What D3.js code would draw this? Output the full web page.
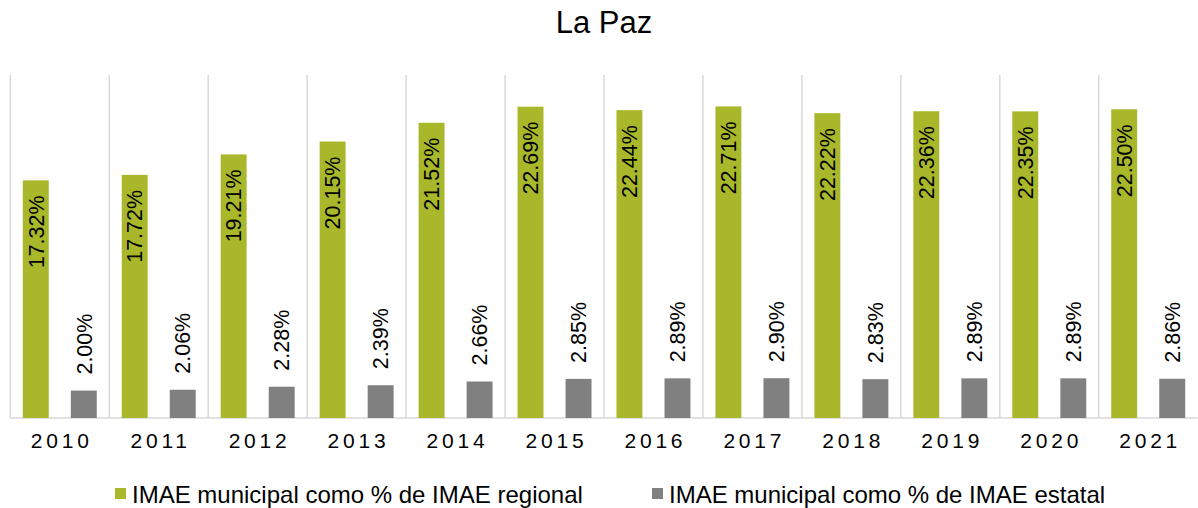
<!DOCTYPE html>
<html lang="es">
<head>
    <meta charset="utf-8">
    <script src="https://d3js.org/d3.v7.min.js"></script>
</head>
<body style="margin:0;background:#fff;">
<style>
svg text {
font-family: "Liberation Sans", Arial, sans-serif;
fill: #000;
}
</style>
<script>
// chart data
var years = ["2010", "2011", "2012", "2013", "2014", "2015", "2016", "2017", "2018", "2019", "2020", "2021"];
var regional = [17.32, 17.72, 19.21, 20.15, 21.52, 22.69, 22.44, 22.71, 22.22, 22.36, 22.35, 22.50];
var estatal = [2.00, 2.06, 2.28, 2.39, 2.66, 2.85, 2.89, 2.90, 2.83, 2.89, 2.89, 2.86];
var seriesNames = ["IMAE municipal como % de IMAE regional", "IMAE municipal como % de IMAE estatal"];
var colors = ["#a8b82a", "#808080"];

var width = 1198;
var height = 508;
var plotLeft = 10.3, plotRight = 1197.7, plotTop = 75, plotBottom = 418;

var svg = d3.select("body")
.append("svg")
.attr("width", width)
.attr("height", height);

// title
svg.append("text")
.attr("x", 604)
.attr("y", 33)
.attr("text-anchor", "middle")
.style("font-size", "31px")
.text("La Paz");

// scales
var x = d3.scaleBand()
.domain(years)
.range([plotLeft, plotRight])
.padding(0);

var xs = d3.scaleBand()
.domain([0, 1])
.range([0, x.bandwidth()])
.paddingInner(0.46)
.paddingOuter(0.26);

var y = d3.scaleLinear()
.domain([0, 25])
.range([plotBottom, plotTop]);

// vertical gridlines between categories
svg.append("g")
.selectAll("line")
.data(years)
.enter()
.append("line")
.attr("x1", function(d) { return x(d); })
.attr("x2", function(d) { return x(d); })
.attr("y1", plotTop)
.attr("y2", plotBottom)
.attr("stroke", "#d9d9d9")
.attr("stroke-width", 1.5);

// baseline
svg.append("line")
.attr("x1", plotLeft)
.attr("x2", plotRight)
.attr("y1", plotBottom)
.attr("y2", plotBottom)
.attr("stroke", "#d9d9d9")
.attr("stroke-width", 1.5);

var rows = years.map(function(d, i) {
return {year: d, vals: [regional[i], estatal[i]]};
});

var group = svg.selectAll("g.year")
.data(rows)
.enter()
.append("g")
.attr("class", "year")
.attr("transform", function(d) { return "translate(" + x(d.year) + ",0)"; });

group.selectAll("rect")
.data(function(d) { return d.vals; })
.enter()
.append("rect")
.attr("x", function(d, i) { return xs(i); })
.attr("y", function(d) { return y(d); })
.attr("width", xs.bandwidth())
.attr("height", function(d) { return plotBottom - y(d); })
.attr("fill", function(d, i) { return colors[i]; });

// rotated value labels: inside end for regional, outside end for estatal
group.selectAll("text")
.data(function(d) { return d.vals; })
.enter()
.append("text")
.attr("transform", function(d, i) {
var cx = xs(i) + xs.bandwidth() / 2;
var ty = i === 0 ? y(d) + 15 : y(d) - 16;
return "translate(" + cx + "," + ty + ") rotate(-90)";
})
.attr("dy", "0.36em")
.attr("text-anchor", function(d, i) { return i === 0 ? "end" : "start"; })
.style("font-size", "21.5px")
.text(function(d) { return d.toFixed(2) + "%"; });

// x axis labels
var x_axis = d3.axisBottom(x).tickSize(0).tickPadding(15);
var xg = svg.append("g")
.attr("transform", "translate(0," + plotBottom + ")")
.call(x_axis);
xg.select(".domain").remove();
xg.selectAll("text")
.style("font-size", "21px")
.style("font-family", "'Liberation Sans', Arial, sans-serif")
.style("letter-spacing", "3.8px")
.attr("dx", "1.9px");

// legend
var legendX = [115, 652];
var legend = svg.selectAll("g.legend")
.data(seriesNames)
.enter()
.append("g")
.attr("class", "legend")
.attr("transform", function(d, i) { return "translate(" + legendX[i] + ",0)"; });
legend.append("rect")
.attr("x", 0)
.attr("y", 488)
.attr("width", 11)
.attr("height", 11)
.attr("fill", function(d, i) { return colors[i]; });
legend.append("text")
.attr("x", 17)
.attr("y", 503)
.style("font-size", "24px")
.text(function(d) { return d; });
</script>
</body>
</html>
